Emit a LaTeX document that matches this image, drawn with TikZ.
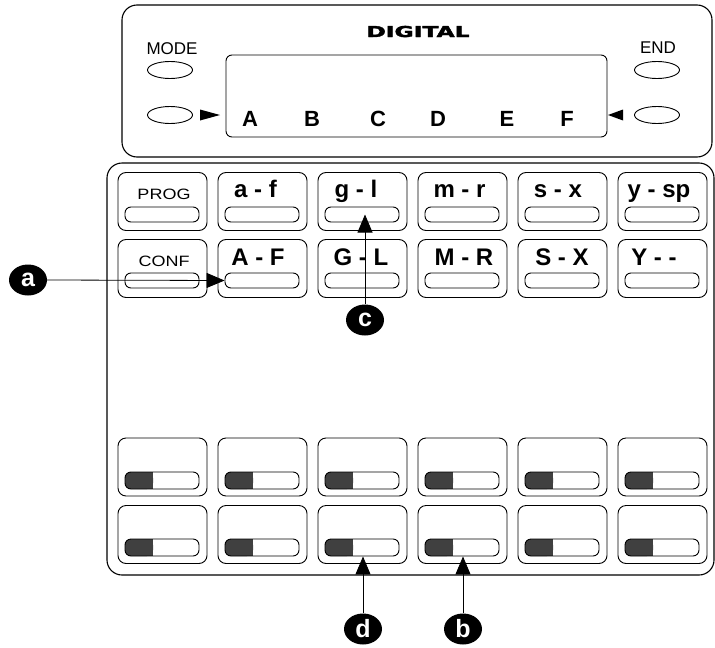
\documentclass[tikz,border=0pt]{standalone}
\usepackage{fontspec}
\setmainfont{Liberation Sans}
\newfontfamily\logofont[BoldFeatures={FakeBold=2}]{DejaVu Sans}
\usetikzlibrary{shapes.geometric,arrows.meta,calc}
\definecolor{darkfill}{HTML}{404040}
\begin{document}
\begin{tikzpicture}[x=1pt,y=-1pt,
  panel/.style={draw, line width=1.1pt, rounded corners=15pt},
  keybox/.style={draw, line width=0.9pt, rounded corners=8pt, minimum width=89pt, minimum height=58pt, inner sep=0pt},
  btn/.style={draw, line width=0.9pt, rounded corners=6pt, minimum width=74pt, minimum height=15pt, inner sep=0pt},
  slider/.style={draw, line width=0.9pt, rounded corners=6pt, minimum width=74pt, minimum height=17pt, inner sep=0pt},
  oval/.style={draw, ellipse, line width=0.9pt, minimum width=45pt, minimum height=17pt, inner sep=0pt},
  callout/.style={ellipse, fill=black, text=white, minimum width=38pt, minimum height=31pt, inner sep=0pt, font=\fontsize{25}{25}\selectfont\bfseries},
  big/.style={font=\fontsize{22}{22}\selectfont\bfseries, inner sep=0pt, anchor=base},
  keylabel/.style={font=\fontsize{24}{24}\selectfont\bfseries, inner sep=0pt, anchor=base},
  small/.style={font=\fontsize{15}{15}\selectfont, inner sep=0pt, anchor=base},
  pointer/.style={line width=0.8pt, -{Triangle[length=18pt,width=15pt]}},
]
\useasboundingbox (0,0) rectangle (715,648);

% ---------- top panel ----------
\draw[panel] (122,5) rectangle (712,157);
\draw[line width=0.9pt, rounded corners=6pt] (226,55) rectangle (607,137);
\node[font=\fontsize{15}{15}\selectfont\logofont\bfseries, xscale=1.56, inner sep=0pt, anchor=base] (logo) at (418,37) {DIGITAL};
\node[small, font=\fontsize{17}{17}\selectfont] (mode) at (172,54) {MODE};
\node[small, font=\fontsize{17}{17}\selectfont] (end) at (658,53) {END};
\node[oval] (modebtn) at (170,70) {};
\node[oval] (leftbtn) at (170,115) {};
\node[oval] (endbtn) at (657,70) {};
\node[oval] (rightbtn) at (657,115) {};
\fill (200,109.5) -- (220,115) -- (200,120.5) -- cycle;
\fill (623,109.5) -- (608,115) -- (623,120.5) -- cycle;
\foreach \l/\x in {A/250,B/312,C/378,D/438,E/507,F/567}
  \node[big] (disp\l) at (\x,126) {\l};

% ---------- lower panel ----------
\draw[panel] (107,163) rectangle (714,575);
\foreach \c [evaluate=\c as \cx using 162.5+100*\c] in {0,...,5} {
  \foreach \r/\ry in {1/201.5,2/268.5,3/467,4/534.5}
    \node[keybox] (k\r\c) at (\cx,\ry) {};
  \node[btn] (b1\c) at (\cx-0.5,214.5) {};
  \node[btn] (b2\c) at (\cx-0.5,280.5) {};
  \foreach \r/\sy in {3/480.5,4/547.5} {
    \fill[darkfill, rounded corners=6pt] (\cx-37.5,\sy-8.5) rectangle (\cx-9.5,\sy+8.5);
    \fill[darkfill] (\cx-20,\sy-8.5) rectangle (\cx-9.5,\sy+8.5);
    \node[slider] (s\r\c) at (\cx-0.5,\sy) {};
  }
}

% key labels
\node[small, xscale=1.2] (lprog) at (164,199) {PROG};
\node[small, xscale=1.2] (lconf) at (164,266) {CONF};
\node[keylabel] (l11) at (255.5,197) {a - f};
\node[keylabel] (l12) at (356,197) {g - l};
\node[keylabel] (l13) at (459.5,197) {m - r};
\node[keylabel] (l14) at (558,197) {s - x};
\node[keylabel] (l15) at (659,197) {y - sp};
\node[keylabel] (l21) at (258,265) {A - F};
\node[keylabel] (l22) at (361,265) {G - L};
\node[keylabel] (l23) at (464,265) {M - R};
\node[keylabel] (l24) at (562,265) {S - X};
\node[keylabel] (l25) at (654,265) {Y - -};

% ---------- callouts ----------
\node[callout] (ca) at (28,280) {a};
\node[callout] (cc) at (365,320) {c};
\node[callout] (cd) at (363,629) {d};
\node[callout] (cb) at (463,629) {b};
\draw[pointer] (ca.east) -- (b21.west);
\draw[pointer] (cc.north) -- (cc.north |- b12.center);
\draw[pointer] (cd.north) -- (cd.north |- s42.south);
\draw[pointer] (cb.north) -- (cb.north |- s43.south);
\end{tikzpicture}
\end{document}
